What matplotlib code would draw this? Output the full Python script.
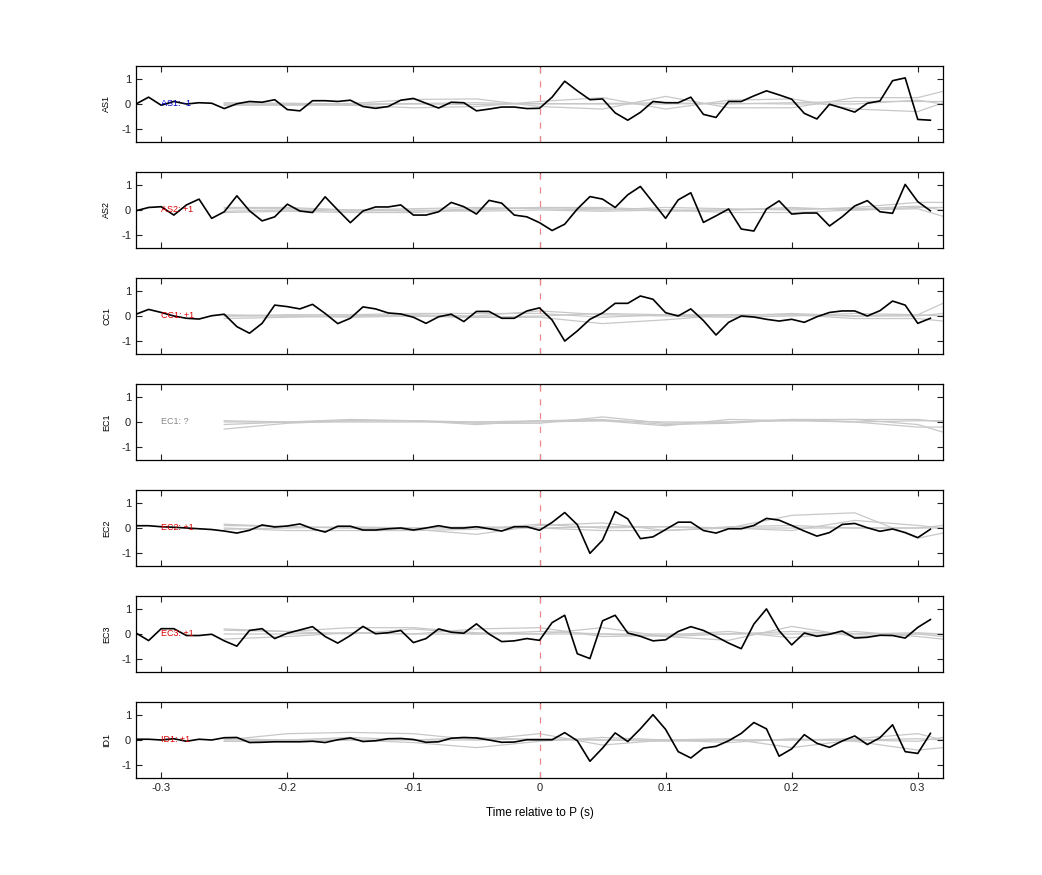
import numpy as np
import matplotlib
matplotlib.use("Agg")
import matplotlib.pyplot as plt

plt.rcParams['font.family'] = ['Liberation Sans', 'DejaVu Sans']
plt.rcParams['axes.unicode_minus'] = False

stations = ["AS1", "AS2", "CC1", "EC1", "EC2", "EC3", "ID1"]
labels = ["AS1: -1", "AS2: +1", "CC1: +1", "EC1: ?", "EC2: +1", "EC3: +1", "ID1: +1"]
label_colors = ["#0000cc", "#dd0000", "#dd0000", "#888888", "#dd0000", "#dd0000", "#dd0000"]

t = np.round(np.arange(-0.32, 0.315, 0.01), 2)

AS1 = [0, 0.27, -0.05, 0.1, 0, 0.05, 0.03, -0.18, 0.01, 0.1, 0.07, 0.17, -0.22, -0.27, 0.13, 0.13,
       0.1, 0.15, -0.1, -0.17, -0.1, 0.15, 0.22, 0.03, -0.16, 0.07, 0.05, -0.27, -0.2, -0.12, -0.12, -0.18,
       -0.17, 0.27, 0.9, 0.52, 0.17, 0.2, -0.35, -0.64, -0.33, 0.1, 0.05, 0.05, 0.27, -0.41, -0.53, 0.1,
       0.1, 0.32, 0.52, 0.36, 0.19, -0.37, -0.59, -0.01, -0.16, -0.32, 0.03, 0.12, 0.92, 1.03, -0.61, -0.64]
AS2 = [-0.03, 0.1, 0.13, -0.2, 0.2, 0.43, -0.33, -0.07, 0.56, -0.03, -0.43, -0.27, 0.23, -0.04, -0.1, 0.52,
       0, -0.5, -0.04, 0.12, 0.12, 0.2, -0.2, -0.2, -0.07, 0.3, 0.13, -0.16, 0.38, 0.27, -0.2, -0.27,
       -0.5, -0.81, -0.56, 0.04, 0.53, 0.43, 0.1, 0.6, 0.93, 0.3, -0.33, 0.4, 0.68, -0.49, -0.23, 0.04,
       -0.75, -0.83, 0.04, 0.36, -0.16, -0.12, -0.12, -0.63, -0.27, 0.16, 0.37, -0.07, -0.13, 1.01, 0.33, -0.03]
CC1 = [0.07, 0.26, 0.14, 0, -0.09, -0.12, 0.01, 0.07, -0.42, -0.68, -0.29, 0.43, 0.37, 0.28, 0.46, 0.1,
       -0.3, -0.09, 0.36, 0.28, 0.12, 0.08, -0.05, -0.29, -0.03, 0.07, -0.22, 0.18, 0.18, -0.09, -0.09, 0.2,
       0.32, -0.16, -0.99, -0.59, -0.13, 0.12, 0.5, 0.5, 0.79, 0.66, 0.13, 0, 0.28, -0.18, -0.75, -0.25,
       0, -0.04, -0.13, -0.2, -0.13, -0.25, -0.03, 0.14, 0.2, 0.2, 0, 0.21, 0.59, 0.43, -0.29, -0.09]
EC1 = None
EC2 = [0.09, 0.09, 0.05, 0.03, 0, -0.03, -0.06, -0.12, -0.2, -0.09, 0.12, 0.04, 0.08, 0.16, -0.03, -0.16,
       0.07, 0.07, -0.08, -0.08, -0.03, 0, -0.08, 0, 0.09, 0, 0, 0.05, -0.03, -0.12, 0.05, 0.05,
       -0.09, 0.22, 0.61, 0.13, -1.0, -0.48, 0.65, 0.36, -0.42, -0.35, -0.06, 0.23, 0.23, -0.1, -0.2, -0.03,
       -0.03, 0.1, 0.38, 0.31, 0.1, -0.12, -0.32, -0.18, 0.14, 0.18, 0.01, -0.13, -0.04, -0.18, -0.38, -0.05]
EC3 = [0.04, -0.26, 0.21, 0.21, -0.06, -0.06, -0.01, -0.27, -0.48, 0.14, 0.21, -0.18, 0.03, 0.16, 0.29, -0.1,
       -0.36, -0.06, 0.3, 0.01, 0.05, 0.14, -0.34, -0.18, 0.2, 0.07, 0.03, 0.4, 0, -0.3, -0.27, -0.18,
       -0.25, 0.45, 0.74, -0.78, -0.97, 0.52, 0.74, 0.04, -0.09, -0.27, -0.23, 0.1, 0.29, 0.14, -0.1, -0.36,
       -0.58, 0.39, 0.99, 0.13, -0.43, 0.04, -0.09, -0.01, 0.12, -0.16, -0.13, -0.05, -0.06, -0.16, 0.26, 0.57]
ID1 = [0.03, 0.03, 0, 0.05, -0.05, 0.03, 0, 0.09, 0.1, -0.1, -0.09, -0.07, -0.07, -0.07, -0.05, -0.1,
       0.01, 0.08, -0.06, -0.03, 0.05, 0.06, 0.02, -0.09, -0.07, 0.07, 0.1, 0.08, 0, -0.09, -0.08, 0.01,
       0.01, 0.01, 0.29, -0.03, -0.84, -0.32, 0.28, -0.06, 0.44, 1.0, 0.42, -0.46, -0.71, -0.32, -0.25, -0.03,
       0.26, 0.69, 0.44, -0.64, -0.35, 0.21, -0.13, -0.29, -0.04, 0.16, -0.18, 0.09, 0.6, -0.46, -0.53, 0.26]
black = [AS1, AS2, CC1, EC1, EC2, EC3, ID1]

# grey (synthetic comparison) traces, coarse samples
tg = [-0.25, -0.2, -0.15, -0.1, -0.05, 0.0, 0.05, 0.1, 0.15, 0.2, 0.25, 0.3, 0.32]
grey = {
    "AS1": [[0.0, 0.0, 0.02, 0.18, 0.2, -0.1, -0.2, 0.3, -0.15, -0.15, 0.25, 0.25, 0.5],
            [0.0, -0.02, -0.05, -0.15, -0.1, 0.1, 0.25, -0.2, 0.15, 0.2, -0.2, -0.3, 0.05],
            [0.05, 0.03, 0.0, 0.02, 0.05, 0.0, 0.02, 0.05, 0.0, 0.05, 0.1, 0.1, 0.1],
            [-0.05, -0.05, -0.03, 0.0, -0.02, 0.02, 0.0, 0.0, 0.03, 0.0, 0.0, 0.15, 0.0]],
    "AS2": [[0.05, 0.05, 0.0, 0.05, 0.1, 0.05, 0.0, 0.1, 0.05, 0.0, 0.1, 0.3, 0.3],
            [-0.1, -0.05, -0.1, -0.1, 0.0, 0.1, 0.1, 0.0, -0.1, -0.1, 0.0, 0.1, 0.1],
            [-0.05, 0.0, -0.05, 0.0, -0.05, 0.0, -0.05, 0.0, 0.0, 0.05, 0.05, 0.15, 0.0],
            [0.1, 0.1, 0.0, -0.05, 0.05, 0.1, 0.05, -0.05, 0.0, 0.1, 0.0, 0.05, -0.25]],
    "CC1": [[0.0, 0.05, 0.05, 0.1, 0.1, 0.1, -0.05, 0.05, 0.0, 0.1, 0.0, 0.05, 0.5],
            [0.0, 0.0, 0.0, 0.0, -0.05, -0.05, -0.3, -0.15, 0.05, 0.05, -0.1, -0.1, -0.2],
            [-0.1, -0.05, 0.0, 0.05, 0.0, 0.2, 0.05, 0.0, -0.05, 0.0, 0.1, 0.05, 0.0],
            [0.05, 0.0, -0.05, 0.0, -0.05, 0.0, 0.1, 0.05, 0.05, 0.05, 0.0, 0.0, 0.1]],
    "EC1": [[-0.28, -0.05, 0.05, 0.05, 0.0, 0.05, 0.05, -0.15, 0.1, 0.05, 0.1, -0.1, -0.4],
            [0.0, 0.0, 0.1, 0.05, -0.05, -0.05, 0.2, -0.05, 0.0, 0.1, 0.0, -0.2, -0.2],
            [-0.1, 0.0, 0.05, 0.05, -0.1, 0.05, 0.1, -0.1, -0.05, 0.1, 0.1, 0.1, 0.0],
            [0.05, 0.0, 0.0, 0.0, 0.0, 0.0, 0.05, 0.0, 0.0, 0.05, 0.0, 0.05, 0.05]],
    "EC2": [[0.15, 0.05, 0.0, -0.05, -0.25, 0.1, 0.2, -0.1, 0.0, 0.5, 0.6, -0.4, -0.2],
            [0.0, -0.1, -0.1, -0.1, -0.05, 0.15, 0.0, 0.05, 0.0, -0.1, 0.3, 0.1, 0.0],
            [-0.05, 0.0, 0.05, 0.0, 0.05, 0.0, -0.1, -0.1, 0.05, 0.1, 0.0, 0.0, 0.1],
            [0.1, 0.05, 0.0, 0.0, 0.0, 0.0, 0.05, 0.05, 0.0, 0.0, 0.0, 0.0, 0.0]],
    "EC3": [[0.15, 0.1, 0.25, 0.25, 0.05, 0.0, 0.25, -0.1, -0.25, 0.3, -0.1, 0.0, -0.1],
            [-0.2, -0.1, 0.05, 0.0, 0.2, 0.25, -0.1, -0.05, 0.1, -0.15, 0.1, -0.1, -0.2],
            [0.2, 0.1, 0.0, 0.2, 0.0, 0.1, 0.0, -0.1, 0.0, 0.1, 0.0, 0.05, 0.0],
            [0.0, 0.0, 0.05, 0.0, 0.0, 0.0, 0.0, 0.0, 0.0, 0.0, 0.0, 0.0, 0.0]],
    "ID1": [[0.0, 0.25, 0.3, 0.25, 0.0, 0.25, -0.2, 0.0, 0.05, -0.3, 0.0, -0.05, 0.1],
            [-0.05, -0.05, 0.0, -0.1, -0.3, -0.05, 0.1, 0.0, -0.1, 0.05, -0.05, -0.4, -0.3],
            [0.05, 0.0, 0.1, 0.0, 0.1, 0.0, 0.0, 0.0, 0.0, 0.0, 0.05, 0.25, 0.0],
            [-0.05, 0.0, 0.0, 0.0, 0.0, 0.05, 0.0, -0.05, 0.0, 0.0, 0.0, 0.05, 0.0]],
}

fig = plt.figure(figsize=(10.42, 8.75), dpi=100)
left, width = 136 / 1042, (943 - 136) / 1042
h = 76 / 875
for i, st in enumerate(stations):
    top = 1 - (66 + 106 * i) / 875
    ax = fig.add_axes([left, top - h, width, h])
    for g in grey[st]:
        ax.plot(tg, g, color="#c8c8c8", lw=0.9, zorder=1)
    if black[i] is not None:
        ax.plot(t, black[i], color="black", lw=1.2, zorder=3)
    ax.axvline(0, color="#ee8888", lw=0.9, dashes=(5, 6), zorder=2)
    ax.text(-0.3, 0, labels[i], color=label_colors[i], fontsize=6.5, va="center", ha="left", zorder=4)
    ax.set_xlim(-0.32, 0.32)
    ax.set_ylim(-1.5, 1.5)
    ax.set_yticks([-1, 0, 1])
    ax.set_xticks([-0.3, -0.2, -0.1, 0, 0.1, 0.2, 0.3])
    ax.tick_params(direction="in", top=True, right=True, labelsize=8, length=4, colors="#222222")
    ax.set_ylabel(st, fontsize=6.5, labelpad=7)
    if i < len(stations) - 1:
        ax.set_xticklabels([])
    else:
        ax.set_xticklabels(["-0.3", "-0.2", "-0.1", "0", "0.1", "0.2", "0.3"])
        ax.set_xlabel("Time relative to P (s)", fontsize=8.5, labelpad=10)
    for s in ax.spines.values():
        s.set_linewidth(0.9)

fig.savefig("out.png", dpi=100)
